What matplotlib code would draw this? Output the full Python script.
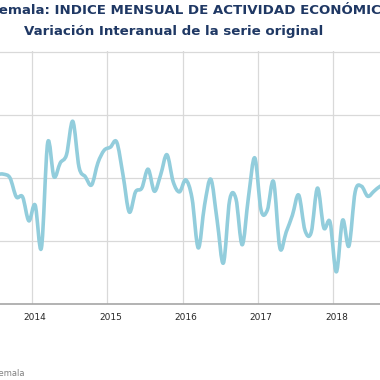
import matplotlib
matplotlib.use("Agg")
import matplotlib.pyplot as plt
import numpy as np
from matplotlib.path import Path
from matplotlib.patches import PathPatch

# IMAE Guatemala, variacion interanual (%), mensual desde julio 2013
start_year = 2013
start_month = 7
imae = [3.06, 3.06, 3.00, 2.70, 2.70, 2.32,
        2.57, 1.89, 3.56, 3.02, 3.24, 3.37, 3.90, 3.17, 3.02, 2.89, 3.24, 3.44,
        3.49, 3.57, 3.05, 2.46, 2.78, 2.84, 3.14, 2.79, 3.05, 3.37, 2.94, 2.78,
        2.97, 2.68, 1.89, 2.57, 2.98, 2.33, 1.65, 2.65, 2.67, 1.94, 2.70, 3.32,
        2.49, 2.49, 2.94, 1.89, 2.14, 2.41, 2.73, 2.17, 2.14, 2.84, 2.21, 2.30,
        1.51, 2.33, 1.92, 2.78, 2.87, 2.71, 2.79, 2.87, 2.90]
years = [2014, 2015, 2016, 2017, 2018]

title = "Guatemala: INDICE MENSUAL DE ACTIVIDAD ECONÓMICA"
subtitle = "Variación Interanual de la serie original"
source = "Fuente: Banco de Guatemala"

navy = "#1F3864"
line_color = "#92CDDC"

# posicion de cada mes en el centro de su categoria
x = np.array([start_year + (start_month - 1 + i + 0.5) / 12 for i in range(len(imae))])
y = np.array(imae)

fig = plt.figure(figsize=(3.8, 3.8), dpi=100)
ax = fig.add_axes([0, 76 / 380, 1, 253 / 380])
ax.set_xlim(2014 - 32 / 75.3, 2014 + 348 / 75.3)
ax.set_ylim(1, 5.016)

# linea suavizada (Catmull-Rom -> Bezier cubico)
pts = np.column_stack([x, y])
ext = np.vstack([pts[0], pts, pts[-1]])
verts = [pts[0]]
codes = [Path.MOVETO]
for i in range(1, len(ext) - 2):
    p0, p1, p2, p3 = ext[i - 1], ext[i], ext[i + 1], ext[i + 2]
    verts += [p1 + (p2 - p0) / 6, p2 - (p3 - p1) / 6, p2]
    codes += [Path.CURVE4] * 3
ax.add_patch(PathPatch(Path(verts, codes), facecolor="none", edgecolor=line_color,
                       lw=2.6, capstyle="round", joinstyle="round", zorder=3))

ax.set_xticks(years)
ax.set_xticklabels([])
for yr in years:
    ax.text(yr + 0.5 / 12, -0.035, str(yr), transform=ax.get_xaxis_transform(),
            ha="center", va="top", fontsize=6.5, color="#262626")
ax.set_yticks([2, 3, 4, 5])
ax.tick_params(length=0, labelleft=False)
ax.grid(True, color="#D9D9D9", lw=0.9)
ax.set_axisbelow(True)
for s in ["left", "right", "top"]:
    ax.spines[s].set_visible(False)
ax.spines["bottom"].set_color("#A6A6A6")
ax.spines["bottom"].set_linewidth(1.2)

fig.text(177 / 380, 1 - 10 / 380, title, ha="center", va="center",
         fontsize=9.6, fontweight="bold", color=navy)
fig.text(174 / 380, 1 - 32 / 380, subtitle, ha="center", va="center",
         fontsize=9.6, fontweight="bold", color=navy)
fig.text(24 / 380, 1 - 373 / 380, source, ha="right", va="center",
         fontsize=6, color="#808080")

fig.savefig("out.png", dpi=100)
